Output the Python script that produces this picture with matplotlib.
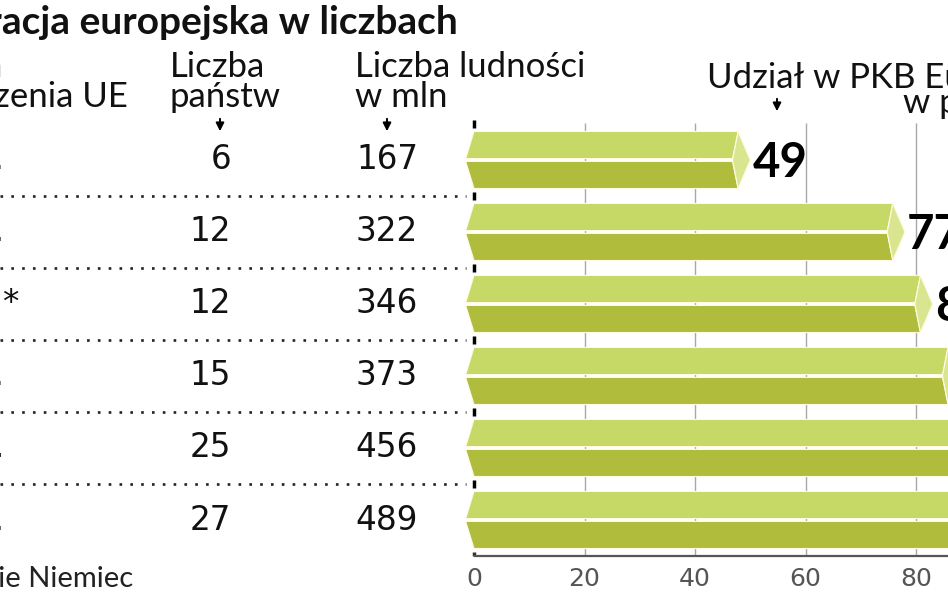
import matplotlib
matplotlib.use("Agg")
import matplotlib.pyplot as plt

plt.rcParams['font.family'] = ['Lato', 'DejaVu Sans']
NUM_FONT = ['DejaVu Sans']

# data
years = ['1957 r.', '1986 r.', '1990 r.*', '1995 r.', '2004 r.', '2007 r.']
countries = [6, 12, 12, 15, 25, 27]
population = [167, 322, 346, 373, 456, 489]
gdp_share = [49, 77, 82, 87, 90, 91]
ticks = [0, 20, 40, 60, 80]

W, H = 948, 593
X0, SCALE = 474, 5.525      # pixel of value 0, pixels per percent
Y0, PITCH = 160, 72         # pixel centre of first row, row pitch


def dx(px):
    return (px - X0) / SCALE


def dy(py):
    return (py - Y0) / PITCH


top_c, bot_c, cap_c = '#c6d866', '#b0bc3c', '#d9e68f'
edge_c = '#fffbe3'

fig = plt.figure(figsize=(W / 100, H / 100), dpi=100)
ax = fig.add_axes([0, 0, 1, 1])
ax.set_xlim(dx(0), dx(W))
ax.set_ylim(dy(H), dy(0))
ax.axis('off')

n = len(years)
h = 0.396

# gridlines behind bars
ax.vlines(ticks[1:], -0.51, n - 0.5, color='#a8a8a8', lw=1, zorder=1)
# black ticks at zero between bars
for r in [i + 0.5 for i in range(-1, n - 1)]:
    ax.vlines(0, r - 0.05, r + 0.05, color='black', lw=2.5, zorder=2)
ax.vlines(0, n - 0.56, n - 0.5, color='#333', lw=2.5, zorder=2)
# bottom axis
ax.hlines(n - 0.5, 0, dx(W), color='#555', lw=1.6, zorder=2)
# dotted separators
for i in range(n - 1):
    ax.hlines(i + 0.5, dx(0), dx(466), color='#222', lw=1.9,
              linestyles=(0, (1, 3.1)), zorder=2)

# bars
for i, v in enumerate(gdp_share):
    t, b = i - h, i + h
    ax.fill([0, v - 1.2, v - 2.2, -1.5], [t, t, i - 0.02, i - 0.02],
            color=top_c, ec=edge_c, lw=0.8, zorder=3)
    ax.fill([-1.5, v - 2.2, v - 1.2, 0], [i + 0.02, i + 0.02, b, b],
            color=bot_c, ec=edge_c, lw=0.8, zorder=3)
    ax.fill([v - 1.2, v + 1, v - 1.2, v - 2.2], [t, i, b, i],
            color=cap_c, ec=edge_c, lw=0.8, zorder=3)
    ax.text(v + 1.4, i + 0.04, str(v), fontsize=34, fontweight='bold',
            ha='left', va='center', color='black', zorder=4)

    end = 19 if years[i].endswith('*') else 4
    ax.text(dx(end), i, years[i], fontsize=23.5, ha='right', va='center',
            color='#111', family=NUM_FONT)
    ax.text(dx(231), i, str(countries[i]), fontsize=23.5, ha='right', va='center',
            color='#111', family=NUM_FONT)
    ax.text(dx(418), i, str(population[i]), fontsize=23.5, ha='right', va='center',
            color='#111', family=NUM_FONT)

# x tick labels
for t in ticks:
    ax.text(t, dy(579), str(t), fontsize=18, ha='center', va='center', color='#555',
            family=NUM_FONT)

# title and headers
ax.text(dx(458), dy(34), 'Integracja europejska w liczbach', fontsize=28, fontweight='bold',
        ha='right', va='baseline', color='#111')
ax.text(dx(3), dy(77), 'Data', fontsize=25, ha='right', va='baseline', color='#111')
ax.text(dx(128), dy(107), 'rozszerzenia UE', fontsize=25, ha='right', va='baseline', color='#111')
ax.text(dx(170), dy(77), 'Liczba', fontsize=25, ha='left', va='baseline', color='#111')
ax.text(dx(170), dy(107), 'państw', fontsize=25, ha='left', va='baseline', color='#111')
ax.text(dx(355), dy(77), 'Liczba ludności', fontsize=25, ha='left', va='baseline', color='#111')
ax.text(dx(355), dy(107), 'w mln', fontsize=25, ha='left', va='baseline', color='#111')
ax.text(dx(707), dy(88), 'Udział w PKB Europy', fontsize=25, ha='left', va='baseline', color='#111')
ax.text(dx(903), dy(113), 'w procentach', fontsize=25, ha='left', va='baseline', color='#111')

# small arrows under the headers
for ax_px, y1, y2 in [(220, 116, 134), (387, 116, 134), (777, 96, 114)]:
    ax.annotate('', xy=(dx(ax_px), dy(y2)), xytext=(dx(ax_px), dy(y1)),
                arrowprops=dict(arrowstyle='-|>', color='black', lw=1.4, mutation_scale=12))

# footnote
ax.text(dx(133), dy(587), '* zjednoczenie Niemiec', fontsize=21, ha='right', va='baseline',
        color='#222')

fig.savefig('out.png', dpi=100)
